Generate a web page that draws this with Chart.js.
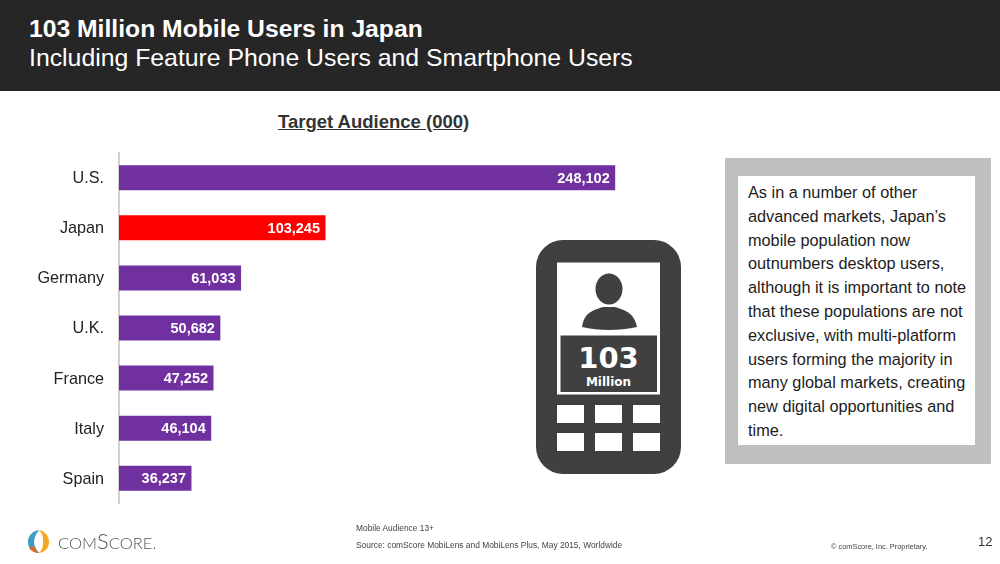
<!DOCTYPE html>
<html>
<head>
<meta charset="utf-8">
<script src="https://cdn.jsdelivr.net/npm/chart.js@4"></script>
<style>
  html, body { margin: 0; padding: 0; background: #fff; }
  body { width: 1000px; height: 564px; position: relative; overflow: hidden; font-family: "Liberation Sans", Arial, sans-serif; color: #222; }
  .abs { position: absolute; white-space: nowrap; }
  #header { position: absolute; left: 0; top: 0; width: 1000px; height: 91px; background: #262626; }
  #chartBox { position: absolute; left: 0; top: 128px; }
  #sideOuter { position: absolute; left: 725px; top: 158px; width: 266px; height: 306px; background: #bfbfbf; }
  #sideInner { position: absolute; left: 738px; top: 176px; width: 237px; height: 269px; background: #fff; }
  #sideText { position: absolute; left: 748px; top: 181px; font-size: 16.3px; line-height: 23.8px; color: #1c1c1c; white-space: nowrap; }
  .foot { font-size: 8.4px; color: #444; }
</style>
</head>
<body>
<div id="header"></div>
<div class="abs" style="left:29px;top:15px;font-size:24.7px;font-weight:bold;color:#fff">103 Million Mobile Users in Japan</div>
<div class="abs" style="left:29px;top:44px;font-size:24.8px;color:#fff">Including Feature Phone Users and Smartphone Users</div>
<div class="abs" style="left:278px;top:111px;font-size:18.5px;font-weight:bold;color:#333;text-decoration:underline">Target Audience (000)</div>

<div id="chartBox"><canvas id="audienceChart" width="625" height="400"></canvas></div>

<svg class="abs" style="left:0;top:0" width="1000" height="564">
  <rect x="536" y="240" width="145" height="234" rx="27" fill="#404040"/>
  <rect x="557" y="262.5" width="103" height="132" fill="#fff"/>
  <ellipse cx="609" cy="289" rx="13.5" ry="15.5" fill="#404040"/>
  <path d="M582 327 C584 314 590 311 603 307 L615 307 C628 311 634 314 637 327 C620 331 598 331 582 327 Z" fill="#404040"/>
  <rect x="560.5" y="335.5" width="96.5" height="56.5" fill="#404040"/>
  <text x="608.5" y="368" text-anchor="middle" font-family="DejaVu Sans" font-weight="bold" font-size="29" fill="#fff">103</text>
  <text x="608.5" y="386" text-anchor="middle" font-family="DejaVu Sans" font-weight="bold" font-size="12" fill="#fff">Million</text>
  <rect x="557" y="405" width="27" height="18" fill="#fff"/>
  <rect x="595" y="405" width="27" height="18" fill="#fff"/>
  <rect x="633" y="405" width="27" height="18" fill="#fff"/>
  <rect x="557" y="433" width="27" height="18" fill="#fff"/>
  <rect x="595" y="433" width="27" height="18" fill="#fff"/>
  <rect x="633" y="433" width="27" height="18" fill="#fff"/>
  <!-- logo -->
  <path d="M39 530 C32 531 28 536 28 542 C28 548 32 552 39 553 C36 549 34 546 34 542 C34 538 36 534 39 530 Z" fill="#3d9cc4"/>
  <path d="M39 530 C45 531 49 536 49 542 C49 548 45 552 39 553 C43 549 43 546 43 542 C43 538 43 534 39 530 Z" fill="#f5a623"/>
  <path d="M34 546 C35 549 37 551 39 553 C35 553 31 551 29 548 Z" fill="#e2672a"/>
</svg>

<div id="sideOuter"></div>
<div id="sideInner"></div>
<div id="sideText">As in a number of other<br>advanced markets, Japan’s<br>mobile population now<br>outnumbers desktop users,<br>although it is important to note<br>that these populations are not<br>exclusive, with multi-platform<br>users forming the majority in<br>many global markets, creating<br>new digital opportunities and<br>time.</div>

<div class="abs" style="left:58px;top:529px;font-family:'Lato';font-weight:300;font-size:16.5px;color:#555;line-height:24px">COM<span style="font-size:22px">S</span>CORE.</div>
<div class="abs foot" style="left:356px;top:523px">Mobile Audience 13+</div>
<div class="abs foot" style="left:356px;top:540px">Source: comScore MobiLens and MobiLens Plus, May 2015, Worldwide</div>
<div class="abs foot" style="left:831px;top:542px;font-size:7.4px">© comScore, Inc. Proprietary.</div>
<div class="abs" style="left:978px;top:534px;font-size:13px;color:#333">12</div>

<script>
var countries = ["U.S.", "Japan", "Germany", "U.K.", "France", "Italy", "Spain"];
var audience = [248102, 103245, 61033, 50682, 47252, 46104, 36237];
var barColors = ["#7030a0", "#ff0000", "#7030a0", "#7030a0", "#7030a0", "#7030a0", "#7030a0"];

// writes the value inside the end of each bar
var valueLabels = {
  id: "valueLabels",
  afterDatasetsDraw: function (chart) {
    var ctx = chart.ctx;
    var bars = chart.getDatasetMeta(0).data;
    ctx.save();
    ctx.font = "bold 14.5px 'Liberation Sans'";
    ctx.fillStyle = "#fff";
    ctx.textAlign = "right";
    ctx.textBaseline = "middle";
    bars.forEach(function (bar, i) {
      ctx.fillText(audience[i].toLocaleString("en-US"), bar.x - 5.5, bar.y + 1);
    });
    ctx.restore();
  }
};

var ctx = document.getElementById("audienceChart").getContext("2d");
new Chart(ctx, {
  type: "bar",
  data: {
    labels: countries,
    datasets: [{
      data: audience,
      backgroundColor: barColors,
      barPercentage: 0.5,
      categoryPercentage: 1
    }]
  },
  options: {
    indexAxis: "y",
    responsive: false,
    animation: false,
    layout: { padding: 0 },
    plugins: {
      legend: { display: false },
      tooltip: { enabled: false }
    },
    scales: {
      x: {
        min: 0,
        max: 253000,
        display: false
      },
      y: {
        afterFit: function (axis) { axis.width = 119; },
        grid: { display: false, drawTicks: false },
        border: { color: "#d0d0d0", width: 2 },
        ticks: {
          color: "#222",
          padding: 15,
          labelOffset: 1,
          font: { family: "'Liberation Sans'", size: 16.2 }
        }
      }
    }
  },
  plugins: [valueLabels]
});
</script>
</body>
</html>
